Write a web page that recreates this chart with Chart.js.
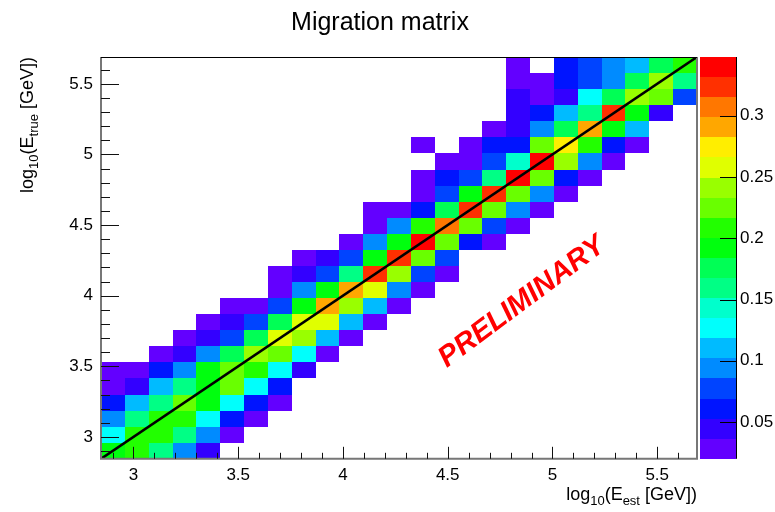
<!DOCTYPE html>
<html lang="en">
<head>
<meta charset="UTF-8">
<title>Migration matrix</title>
<script src="https://cdn.jsdelivr.net/npm/chart.js"></script>
<style>
  html, body { margin: 0; padding: 0; background: #fff; }
</style>
</head>
<body>
<canvas id="chart" width="775" height="512"></canvas>
<script>
// binning of both axes, log10(E / GeV)
const binLow = 2.845;
const binHigh = 5.69;
const nBins = 25;

// first filled E_est bin of every E_true row (row 0 = lowest E_true)
const firstBin = [0, 0, 0, 0, 0, 0, 2, 3, 4, 5, 7, 7, 8, 10, 11, 11, 13, 13, 14, 13, 16, 17, 17, 17, 17];

// migration probability per row, starting at firstBin (null = empty bin)
const migration = [
  [0.192, 0.208, 0.159, 0.093, 0.044],
  [0.126, 0.208, 0.208, 0.159, 0.093, 0.027],
  [0.093, 0.159, 0.208, 0.208, 0.126, 0.060, 0.027],
  [0.060, 0.109, 0.159, 0.225, 0.192, 0.126, 0.060, 0.027],
  [0.027, 0.044, 0.109, 0.159, 0.192, 0.225, 0.126, 0.060],
  [0.027, 0.027, 0.060, 0.093, 0.192, 0.225, 0.208, 0.126, 0.044],
  [0.027, 0.044, 0.093, 0.175, 0.241, 0.225, 0.126, 0.027],
  [0.027, 0.044, 0.077, 0.175, 0.258, 0.241, 0.109, 0.027],
  [0.027, 0.044, 0.077, 0.175, 0.258, 0.258, 0.109, 0.027],
  [0.027, 0.027, 0.077, 0.192, 0.291, 0.241, 0.109, 0.027],
  [0.027, 0.093, 0.192, 0.291, 0.258, 0.093, 0.027],
  [0.027, 0.044, 0.077, 0.159, 0.323, 0.241, 0.077, 0.027],
  [0.027, 0.044, 0.077, 0.192, 0.323, 0.225, 0.077],
  [0.027, 0.093, 0.192, 0.340, 0.225, 0.060, 0.027],
  [0.027, 0.093, 0.208, 0.307, 0.225, 0.077, 0.027],
  [0.027, 0.027, 0.060, 0.175, 0.323, 0.225, 0.093, 0.027],
  [0.027, 0.077, 0.192, 0.323, 0.225, 0.093, 0.027],
  [0.027, 0.060, 0.077, 0.159, 0.340, 0.225, 0.060, 0.027],
  [0.027, 0.027, 0.077, 0.142, 0.340, 0.241, 0.093, 0.027],
  [0.027, null, 0.027, 0.060, 0.060, 0.225, 0.274, 0.208, 0.060, 0.027],
  [0.027, 0.044, 0.093, 0.175, 0.291, 0.192, 0.109],
  [0.044, 0.060, 0.109, 0.159, 0.323, 0.192, 0.044],
  [0.044, 0.027, 0.044, 0.126, 0.175, 0.241, 0.225, 0.077],
  [0.027, 0.027, 0.060, 0.077, 0.093, 0.175, 0.241, 0.159],
  [0.027, null, 0.060, 0.077, 0.093, 0.109, 0.175, 0.208]
];

// diagonal E_est = E_true
const diagonal = [binLow, binHigh];

// colour scale range
const zMin = 0.020;
const zMax = 0.348;

// 20 contour colours (violet -> red)
const paletteColors = [
  'rgb(99,0,255)', 'rgb(51,0,255)', 'rgb(0,20,255)', 'rgb(0,68,255)', 'rgb(0,139,255)',
  'rgb(0,187,255)', 'rgb(0,255,252)', 'rgb(0,255,204)', 'rgb(0,255,133)', 'rgb(0,255,85)',
  'rgb(0,255,14)', 'rgb(34,255,0)', 'rgb(105,255,0)', 'rgb(153,255,0)', 'rgb(224,255,0)',
  'rgb(255,238,0)', 'rgb(255,167,0)', 'rgb(255,119,0)', 'rgb(255,48,0)', 'rgb(255,0,0)'
];

const FONT = "'Liberation Sans', Arial, sans-serif";
Chart.defaults.font.family = FONT;
Chart.defaults.color = '#000';

const edge = i => binLow + i * (binHigh - binLow) / nBins;
const plainNumber = v => String(+v.toFixed(3));

function levelColor(v) {
  const n = paletteColors.length;
  let k = Math.floor((v - zMin) / (zMax - zMin) * n);
  k = Math.max(0, Math.min(n - 1, k));
  return paletteColors[k];
}

// text with subscripts, right aligned at (0,0) on the baseline
function drawSubText(ctx, parts, size) {
  const big = size + 'px ' + FONT;
  const small = Math.round(size * 0.7) + 'px ' + FONT;
  let total = 0;
  parts.forEach(p => { ctx.font = p.sub ? small : big; total += ctx.measureText(p.t).width; });
  let x = -total;
  ctx.textAlign = 'left';
  ctx.textBaseline = 'alphabetic';
  parts.forEach(p => {
    ctx.font = p.sub ? small : big;
    ctx.fillText(p.t, x, p.sub ? size * 0.3 : 0);
    x += ctx.measureText(p.t).width;
  });
}

const heatmap = {
  id: 'heatmap',
  beforeDatasetsDraw(chart) {
    const { ctx, scales: { x, y } } = chart;
    ctx.save();
    migration.forEach((row, j) => {
      const yTop = Math.round(y.getPixelForValue(edge(j + 1)));
      const yBot = Math.round(y.getPixelForValue(edge(j)));
      row.forEach((v, k) => {
        if (v === null) return;
        const i = firstBin[j] + k;
        const xL = Math.round(x.getPixelForValue(edge(i)));
        const xR = Math.round(x.getPixelForValue(edge(i + 1)));
        ctx.fillStyle = levelColor(v);
        ctx.fillRect(xL, yTop, xR - xL, yBot - yTop);
      });
    });
    ctx.restore();
  }
};

const decorations = {
  id: 'decorations',
  afterDatasetsDraw(chart) {
    const { ctx, chartArea: a, scales: { x, y, z } } = chart;
    ctx.save();

    // frame
    ctx.strokeStyle = '#777';
    ctx.lineWidth = 2;
    ctx.beginPath();
    ctx.moveTo(a.left, a.top);
    ctx.lineTo(a.left, a.bottom);
    ctx.lineTo(a.right, a.bottom);
    ctx.lineTo(a.right, a.top);
    ctx.stroke();
    ctx.strokeStyle = '#000';
    ctx.lineWidth = 1;
    ctx.beginPath();
    ctx.moveTo(a.left, a.top + 0.5);
    ctx.lineTo(a.right, a.top + 0.5);
    ctx.stroke();

    // ticks inside the frame, minor every 0.1
    ctx.strokeStyle = '#111';
    ctx.beginPath();
    for (let n = 29; n <= 56; n++) {
      const v = n / 10;
      const major = n % 5 === 0;
      const px = Math.round(x.getPixelForValue(v)) + 0.5;
      ctx.moveTo(px, a.bottom);
      ctx.lineTo(px, a.bottom - (major ? 12 : 6));
      const py = Math.round(y.getPixelForValue(v)) + 0.5;
      ctx.moveTo(a.left, py);
      ctx.lineTo(a.left + (major ? 18 : 9), py);
    }
    ctx.stroke();

    // colour palette
    const pL = a.right + 3, pR = a.right + 39;
    const dz = (zMax - zMin) / paletteColors.length;
    paletteColors.forEach((c, k) => {
      const yb = Math.round(z.getPixelForValue(zMin + k * dz));
      const yt = Math.round(z.getPixelForValue(zMin + (k + 1) * dz));
      ctx.fillStyle = c;
      ctx.fillRect(pL, yt, pR - pL, yb - yt);
    });
    ctx.strokeStyle = '#000';
    ctx.beginPath();
    ctx.moveTo(pR + 0.5, a.top);
    ctx.lineTo(pR + 0.5, a.bottom);
    z.ticks.forEach(t => {
      const py = Math.round(z.getPixelForValue(t.value)) + 0.5;
      ctx.moveTo(pR, py);
      ctx.lineTo(pR - 16, py);
    });
    ctx.stroke();

    // titles
    ctx.fillStyle = '#000';
    ctx.font = '25px ' + FONT;
    ctx.textAlign = 'center';
    ctx.textBaseline = 'alphabetic';
    ctx.fillText('Migration matrix', 380, 30);

    ctx.save();
    ctx.translate(a.right, 500);
    drawSubText(ctx, [{ t: 'log' }, { t: '10', sub: true }, { t: '(E' }, { t: 'est', sub: true }, { t: ' [GeV])' }], 18);
    ctx.restore();

    ctx.save();
    ctx.translate(33, a.top);
    ctx.rotate(-Math.PI / 2);
    drawSubText(ctx, [{ t: 'log' }, { t: '10', sub: true }, { t: '(E' }, { t: 'true', sub: true }, { t: ' [GeV])' }], 18);
    ctx.restore();

    // preliminary stamp
    ctx.save();
    ctx.translate(522, 302);
    ctx.rotate(-0.64);
    ctx.fillStyle = '#ff0000';
    ctx.font = 'italic bold 29px ' + FONT;
    ctx.textAlign = 'center';
    ctx.textBaseline = 'middle';
    ctx.fillText('PRELIMINARY', 0, 0);
    ctx.restore();

    ctx.restore();
  }
};

new Chart(document.getElementById('chart'), {
  type: 'scatter',
  data: {
    datasets: [{
      data: diagonal.map(v => ({ x: v, y: v })),
      showLine: true,
      borderColor: '#000',
      borderWidth: 2.6,
      pointRadius: 0
    }]
  },
  options: {
    responsive: false,
    animation: false,
    events: [],
    layout: { padding: { top: 57, left: 0, right: 0, bottom: 0 } },
    plugins: { legend: { display: false }, tooltip: { enabled: false } },
    scales: {
      x: {
        type: 'linear', position: 'bottom', min: binLow, max: binHigh,
        grid: { display: false, drawTicks: false }, border: { display: false },
        ticks: { stepSize: 0.5, includeBounds: false, padding: 6, font: { size: 17 }, callback: plainNumber },
        afterFit(s) { s.height = 49; }
      },
      y: {
        type: 'linear', position: 'left', min: binLow, max: binHigh,
        grid: { display: false, drawTicks: false }, border: { display: false },
        ticks: { stepSize: 0.5, includeBounds: false, padding: 8, font: { size: 17 }, callback: plainNumber },
        afterFit(s) { s.width = 101; }
      },
      z: {
        type: 'linear', axis: 'y', position: 'right', min: zMin, max: zMax,
        grid: { display: false, drawTicks: false }, border: { display: false },
        ticks: { stepSize: 0.05, includeBounds: false, padding: 43, font: { size: 17 }, callback: plainNumber },
        afterFit(s) { s.width = 78; }
      }
    }
  },
  plugins: [heatmap, decorations]
});
</script>
</body>
</html>
